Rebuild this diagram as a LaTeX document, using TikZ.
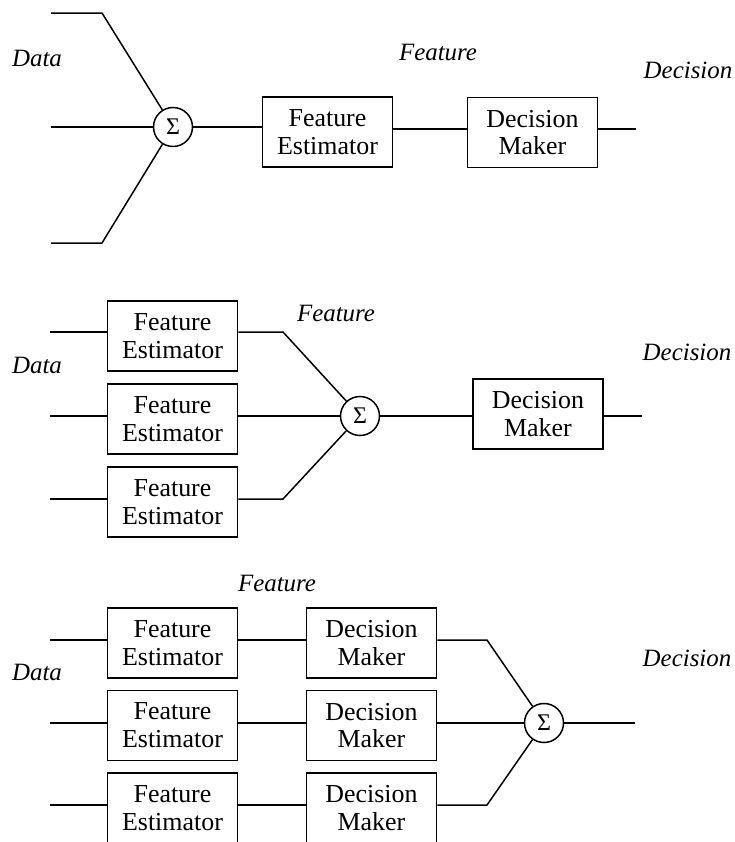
\documentclass[tikz,border=0pt]{standalone}
\usepackage{fontspec}
\setmainfont{Liberation Serif}
\begin{document}
\begin{tikzpicture}[x=1bp,y=-1bp,
  wire/.style={line width=1.5bp},
  blockbox/.style={draw,line width=1.7bp,minimum width=130bp,minimum height=70bp,
    inner sep=0pt,align=center,font=\fontsize{26}{28}\selectfont},
  sumnode/.style={draw,circle,line width=1.5bp,minimum size=39bp,inner sep=0pt,
    font=\fontsize{24}{24}\selectfont},
  tag/.style={font=\fontsize{25}{28}\selectfont\itshape,inner sep=0pt}]
\useasboundingbox (0,0) rectangle (735,842);
\clip (0,0) rectangle (735,842);

% ---------- top: sum data, one estimator, one decision maker ----------
\node[sumnode] (s1) at (173,127) {Σ};
\node[blockbox] (fe1) at (327.5,132) {Feature\\Estimator};
\node[blockbox] (dm1) at (532.5,132.5) {Decision\\Maker};
\node[tag] (data1) at (37,58) {Data};
\node[tag] (feat1) at (438,52) {Feature};
\node[tag] (dec1) at (688,70) {Decision};
\coordinate (i1a) at (51,13);  \coordinate (k1a) at (102,13);
\coordinate (i1b) at (51,127);
\coordinate (i1c) at (51,243); \coordinate (k1c) at (102,243);
\coordinate (o1) at (636,129);
\draw[wire] (i1a) -- (k1a) -- (s1);
\draw[wire] (i1b) -- (s1.west);
\draw[wire] (i1c) -- (k1c) -- (s1);
\draw[wire] (s1.east) -- (s1.east -| fe1.west);
\draw[wire] (fe1.east |- o1) -- (dm1.west |- o1);
\draw[wire] (dm1.east |- o1) -- (o1);

% ---------- middle: three estimators, summed features ----------
\node[blockbox] (fe2a) at (172.5,336) {Feature\\Estimator};
\node[blockbox] (fe2b) at (172.5,419) {Feature\\Estimator};
\node[blockbox] (fe2c) at (172.5,502) {Feature\\Estimator};
\node[sumnode] (s2) at (360,416) {Σ};
\node[blockbox] (dm2) at (538,414) {Decision\\Maker};
\node[tag] (data2) at (37,365) {Data};
\node[tag] (feat2) at (336,313) {Feature};
\node[tag] (dec2) at (687,352) {Decision};
\coordinate (i2a) at (50,332); \coordinate (k2a) at (283,332);
\coordinate (i2b) at (50,416);
\coordinate (i2c) at (50,499); \coordinate (k2c) at (283,499);
\coordinate (o2) at (642,416);
\draw[wire] (i2a) -- (i2a -| fe2a.west);
\draw[wire] (i2b) -- (i2b -| fe2b.west);
\draw[wire] (i2c) -- (i2c -| fe2c.west);
\draw[wire] (fe2a.east |- k2a) -- (k2a) -- (s2);
\draw[wire] (fe2b.east |- s2) -- (s2.west);
\draw[wire] (fe2c.east |- k2c) -- (k2c) -- (s2);
\draw[wire] (s2.east) -- (s2.east -| dm2.west);
\draw[wire] (dm2.east |- o2) -- (o2);

% ---------- bottom: three estimator/decision chains, summed decisions ----------
\node[blockbox] (fe3a) at (172.5,643) {Feature\\Estimator};
\node[blockbox] (fe3b) at (172.5,725.5) {Feature\\Estimator};
\node[blockbox] (fe3c) at (172.5,808) {Feature\\Estimator};
\node[blockbox] (dm3a) at (371.5,643) {Decision\\Maker};
\node[blockbox] (dm3b) at (371.5,725.5) {Decision\\Maker};
\node[blockbox] (dm3c) at (371.5,808) {Decision\\Maker};
\node[sumnode] (s3) at (544,723) {Σ};
\node[tag] (data3) at (37,672) {Data};
\node[tag] (feat3) at (277,583) {Feature};
\node[tag] (dec3) at (687,658) {Decision};
\coordinate (i3a) at (50,640); \coordinate (k3a) at (487,640);
\coordinate (i3b) at (50,723);
\coordinate (i3c) at (50,805); \coordinate (k3c) at (487,805);
\coordinate (o3) at (635,723);
\draw[wire] (i3a) -- (i3a -| fe3a.west);
\draw[wire] (i3b) -- (i3b -| fe3b.west);
\draw[wire] (i3c) -- (i3c -| fe3c.west);
\draw[wire] (fe3a.east |- i3a) -- (dm3a.west |- i3a);
\draw[wire] (fe3b.east |- i3b) -- (dm3b.west |- i3b);
\draw[wire] (fe3c.east |- i3c) -- (dm3c.west |- i3c);
\draw[wire] (dm3a.east |- k3a) -- (k3a) -- (s3);
\draw[wire] (dm3b.east |- s3) -- (s3.west);
\draw[wire] (dm3c.east |- k3c) -- (k3c) -- (s3);
\draw[wire] (s3.east) -- (o3);
\end{tikzpicture}
\end{document}
